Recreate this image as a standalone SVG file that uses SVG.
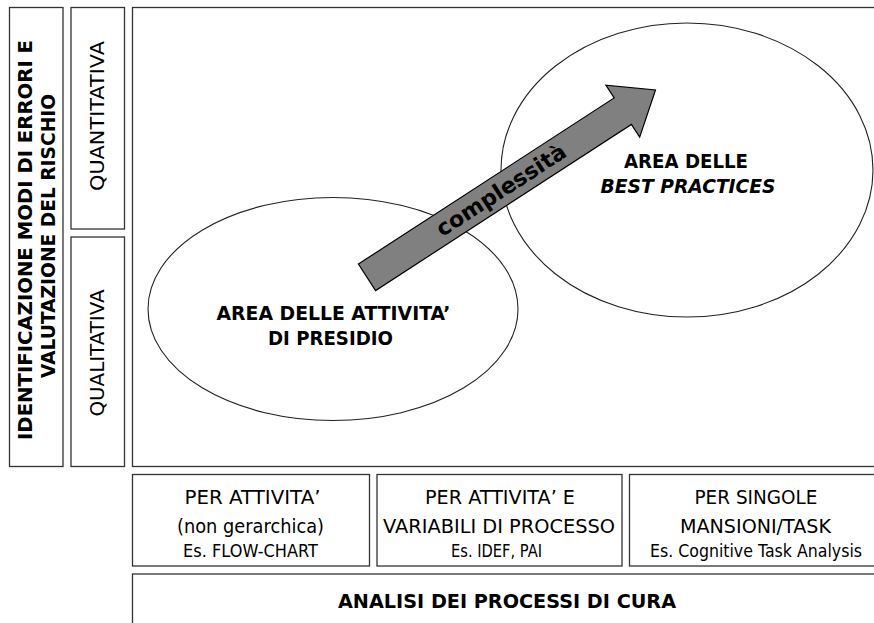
<svg xmlns="http://www.w3.org/2000/svg" width="874" height="623" viewBox="0 0 874 623">
<style>
.box{fill:#fff;stroke:#333;stroke-width:1.3}
.ell{fill:#fff;stroke:#222;stroke-width:1.1}
text{font-family:"DejaVu Sans","Liberation Sans",sans-serif;fill:#000}
.r{font-size:20px}
.s{font-size:18px}
.b{font-size:20px;font-weight:bold}
.c{text-anchor:middle}
</style>
<rect width="874" height="623" fill="#fff"/>
<g id="main-area">
<rect class="box" x="132.5" y="7.5" width="750" height="459"/>
</g>
<g id="ellipse-presidio">
<ellipse class="ell" cx="333" cy="309" rx="185" ry="111.5"/>
<text class="b c" x="333.5" y="320" textLength="234" lengthAdjust="spacingAndGlyphs">AREA DELLE ATTIVITA’</text>
<text class="b c" x="330.5" y="345" textLength="125" lengthAdjust="spacingAndGlyphs">DI PRESIDIO</text>
</g>
<g id="ellipse-best">
<ellipse class="ell" cx="687" cy="170" rx="186" ry="147"/>
<text class="b c" x="686" y="168" textLength="124" lengthAdjust="spacingAndGlyphs">AREA DELLE</text>
<text class="b c" x="688" y="193" font-style="italic" textLength="175" lengthAdjust="spacingAndGlyphs">BEST PRACTICES</text>
</g>
<g id="connectors">
<g id="arrow-complessita" transform="translate(367,277.3) rotate(-33)">
<polygon points="0,-15.8 305,-15.8 305,-31 344,0 305,31 305,15.8 0,15.8" fill="#808080" stroke="#000" stroke-width="1.2" stroke-linejoin="miter"/>
<text class="c" x="160" y="7.5" font-size="22" font-weight="bold" textLength="150" lengthAdjust="spacingAndGlyphs">complessità</text>
</g>
</g>
<g id="axis-y">
<rect class="box" x="9.5" y="7.5" width="53.5" height="459"/>
<text class="b c" transform="translate(32,240) rotate(-90)" textLength="400" lengthAdjust="spacingAndGlyphs">IDENTIFICAZIONE MODI DI ERRORI E</text>
<text class="b c" transform="translate(55,236) rotate(-90)" textLength="284" lengthAdjust="spacingAndGlyphs">VALUTAZIONE DEL RISCHIO</text>
</g>
<g id="quantitativa">
<rect class="box" x="71" y="7.5" width="53.5" height="221.5"/>
<text class="r c" transform="translate(104,116) rotate(-90)" textLength="150" lengthAdjust="spacingAndGlyphs">QUANTITATIVA</text>
</g>
<g id="qualitativa">
<rect class="box" x="71" y="237" width="53.5" height="229.5"/>
<text class="r c" transform="translate(104,353) rotate(-90)" textLength="127" lengthAdjust="spacingAndGlyphs">QUALITATIVA</text>
</g>
<g id="per-attivita">
<rect class="box" x="132.5" y="474.5" width="237" height="91.5"/>
<text class="r c" x="252.5" y="504" textLength="136" lengthAdjust="spacingAndGlyphs">PER ATTIVITA’</text>
<text class="r c" x="250.5" y="533" textLength="147" lengthAdjust="spacingAndGlyphs">(non gerarchica)</text>
<text class="s c" x="250.5" y="557" textLength="135" lengthAdjust="spacingAndGlyphs">Es. FLOW-CHART</text>
</g>
<g id="per-attivita-variabili">
<rect class="box" x="377" y="474.5" width="245" height="91.5"/>
<text class="r c" x="500" y="504" textLength="150" lengthAdjust="spacingAndGlyphs">PER ATTIVITA’ E</text>
<text class="r c" x="499" y="533" textLength="232" lengthAdjust="spacingAndGlyphs">VARIABILI DI PROCESSO</text>
<text class="s c" x="496.5" y="557" textLength="91" lengthAdjust="spacingAndGlyphs">Es. IDEF, PAI</text>
</g>
<g id="per-singole-mansioni">
<rect class="box" x="629.5" y="474.5" width="253" height="91.5"/>
<text class="r c" x="756" y="504" textLength="123" lengthAdjust="spacingAndGlyphs">PER SINGOLE</text>
<text class="r c" x="755.5" y="533" textLength="151" lengthAdjust="spacingAndGlyphs">MANSIONI/TASK</text>
<text class="s c" x="756" y="557" textLength="212" lengthAdjust="spacingAndGlyphs">Es. Cognitive Task Analysis</text>
</g>
<g id="analisi-processi">
<rect class="box" x="132.5" y="574" width="750" height="60"/>
<text class="b c" x="507" y="608" font-size="19" textLength="338" lengthAdjust="spacingAndGlyphs">ANALISI DEI PROCESSI DI CURA</text>
</g>
</svg>
